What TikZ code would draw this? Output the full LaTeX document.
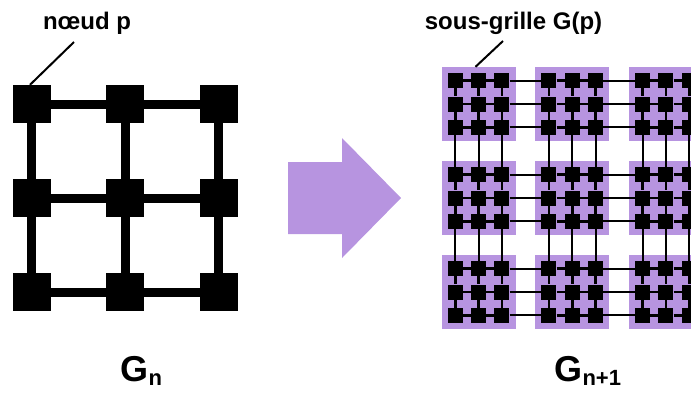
\documentclass[tikz,border=0pt]{standalone}
\usepackage{fontspec}
\setmainfont{Liberation Sans}
\usepackage{tikz}
\usetikzlibrary{positioning,calc}
\definecolor{gridpurple}{RGB}{183, 148, 224}

\begin{document}
\begin{tikzpicture}[x=1pt, y=-1pt,
    bignode/.style={fill=black, minimum size=38pt, inner sep=0pt},
    smallnode/.style={fill=black, minimum size=15pt, inner sep=0pt},
    subgrid/.style={fill=gridpurple, minimum size=74pt, inner sep=0pt},
    biglink/.style={line width=9pt},
    smalllink/.style={line width=2.6pt},
    crosslink/.style={line width=2pt},
    lbl/.style={font=\bfseries\fontsize{24}{28}\selectfont},
    glbl/.style={anchor=base west, font=\bfseries\fontsize{36}{40}\selectfont}]
    \useasboundingbox (0,0) rectangle (691,392);

    % Left grid G_n
    \foreach \i in {1,2,3} {
        \foreach \j in {1,2,3} {
            \node[bignode] (p\i\j) at ({31.5+93.7*(\i-1)}, {104+94*(\j-1)}) {};
        }
    }
    \foreach \i in {1,2,3} {
        \foreach \j/\k in {1/2,2/3} {
            \draw[biglink] (p\i\j) -- (p\i\k);
            \draw[biglink] (p\j\i) -- (p\k\i);
        }
    }

    % Label of one node
    \node[lbl] (lblnode) at (87,23) {nœud p};
    \coordinate (lblnodeend) at (74,42);
    \draw[line width=2pt] (lblnodeend) -- ([xshift=-1.5pt]p11.north);

    % Arrow
    \fill[gridpurple] (288,162) -- (342,162) -- (342,138) -- (401,198)
        -- (342,258) -- (342,234) -- (288,234) -- cycle;

    % Right grid G_{n+1}: one sub-grid per node
    \foreach \I in {1,2,3} {
        \foreach \J in {1,2,3} {
            \node[subgrid] (b\I\J) at ({478.5+93.7*(\I-1)}, {104+94*(\J-1)}) {};
            \foreach \i in {1,2,3} {
                \foreach \j in {1,2,3} {
                    \node[smallnode] (s\I\J-\i\j) at ($(b\I\J)+({23.3*(\i-2)},{23.3*(\j-2)})$) {};
                }
            }
            \foreach \i in {1,2,3} {
                \foreach \j/\k in {1/2,2/3} {
                    \draw[smalllink] (s\I\J-\i\j) -- (s\I\J-\i\k);
                    \draw[smalllink] (s\I\J-\j\i) -- (s\I\J-\k\i);
                }
            }
        }
    }

    % Links between neighbouring sub-grids
    \foreach \I/\K in {1/2,2/3} {
        \foreach \J in {1,2,3} {
            \foreach \i in {1,2,3} {
                \draw[crosslink] (s\I\J-3\i) -- (s\K\J-1\i);
                \draw[crosslink] (s\J\I-\i3) -- (s\J\K-\i1);
            }
        }
    }

    % Label of one sub-grid
    \node[lbl] (lblsub) at (513.5,23) {sous-grille G(p)};
    \coordinate (lblsubend) at (503,41);
    \draw[line width=2pt] (lblsubend) -- ([xshift=-3pt]b11.north);

    % Names of the grids
    \node[glbl] (gn) at (117,381.5) {G\raisebox{-4pt}{\fontsize{22}{24}\selectfont n}};
    \node[glbl] (gnext) at (551,381.5) {G\raisebox{-4pt}{\fontsize{22}{24}\selectfont n+1}};
\end{tikzpicture}
\end{document}
